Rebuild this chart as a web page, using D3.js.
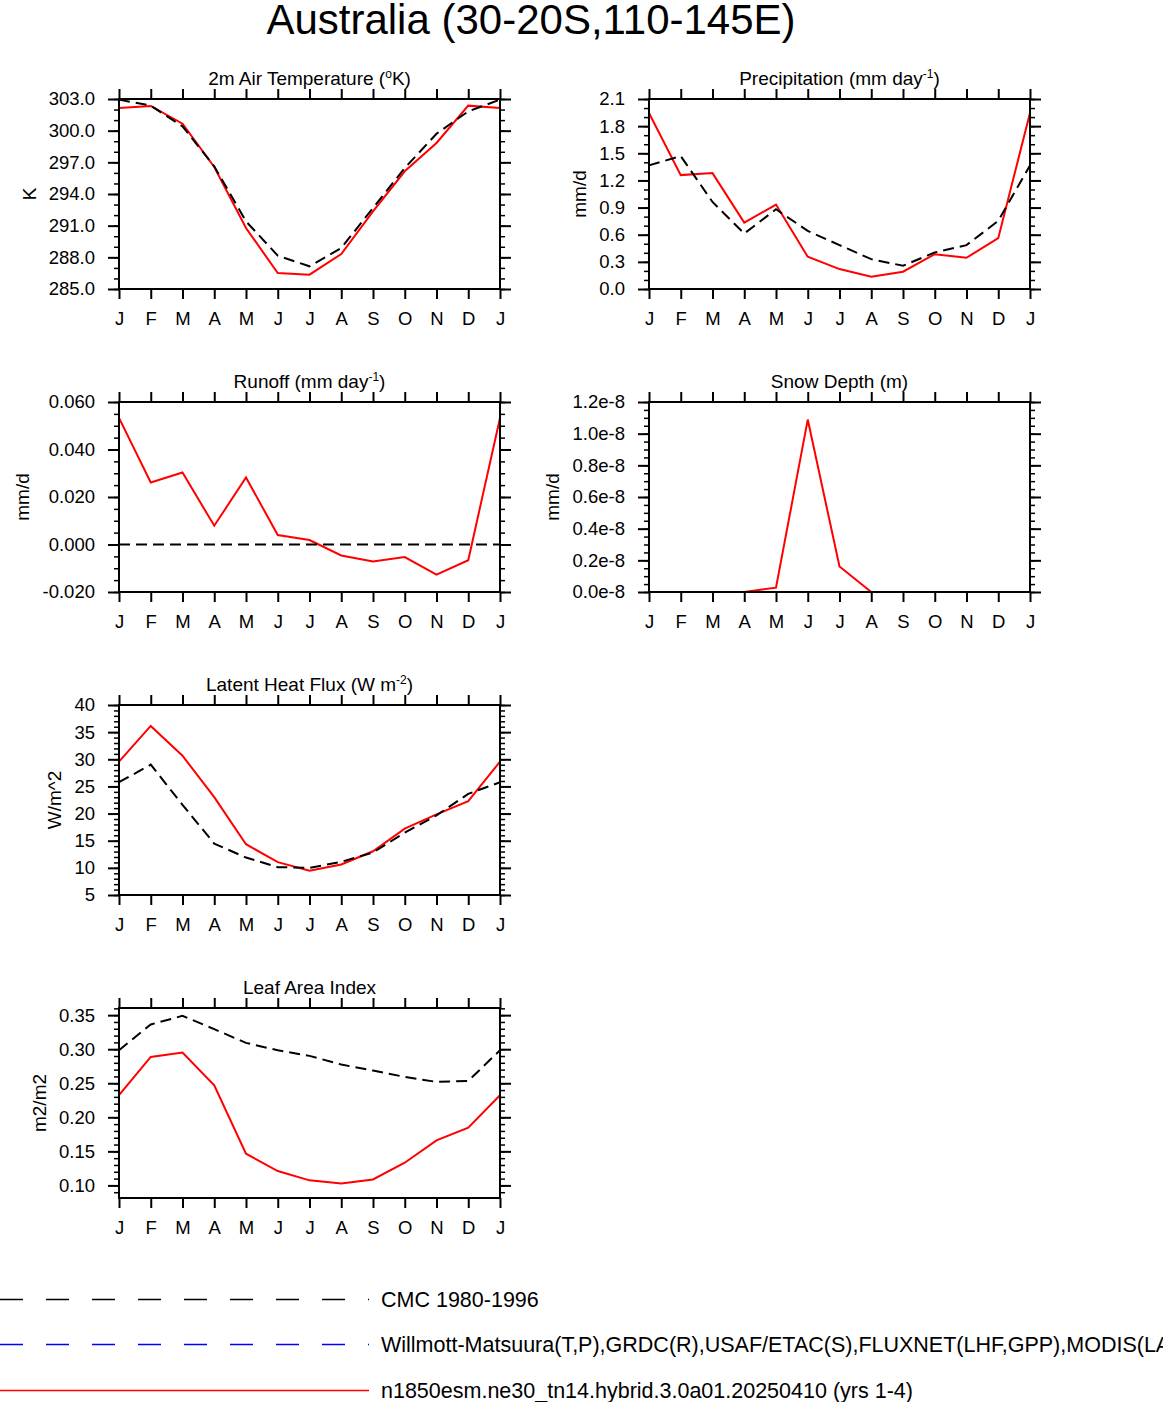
<!DOCTYPE html>
<html>
<head>
<meta charset="utf-8">
<script src="https://cdn.jsdelivr.net/npm/d3@7"></script>
<style>
  body { margin: 0; background: #fff; }
  svg text { font-family: 'Liberation Sans', Arial, Helvetica, sans-serif; fill: #000; }
</style>
</head>
<body>
<div id="chart"></div>
<script>
(function(d3) {

  'use strict';

  // month labels, Jan..Dec plus Jan again to close the cycle
  var months = ['J', 'F', 'M', 'A', 'M', 'J', 'J', 'A', 'S', 'O', 'N', 'D', 'J'];

  var tempModel = [302.15, 302.34, 300.66, 296.56, 290.78, 286.51, 286.36, 288.31, 292.36, 296.15, 298.83, 302.37, 302.15];
  var tempObs = [302.94, 302.37, 300.41, 296.62, 291.41, 288.16, 287.15, 288.89, 292.67, 296.46, 299.71, 301.83, 302.94];

  var precipModel = [1.946, 1.259, 1.281, 0.734, 0.933, 0.356, 0.220, 0.136, 0.191, 0.385, 0.345, 0.562, 1.946];
  var precipObs = [1.366, 1.469, 0.962, 0.613, 0.881, 0.642, 0.485, 0.330, 0.257, 0.404, 0.485, 0.753, 1.366];

  var runoffModel = [0.0533, 0.0261, 0.0303, 0.0079, 0.0282, 0.0040, 0.0019, -0.0046, -0.0072, -0.0053, -0.0127, -0.0066, 0.0533];
  var runoffObs = [0, 0, 0, 0, 0, 0, 0, 0, 0, 0, 0, 0, 0];

  var snowModel = [0, 0, 0, 0, 0.027e-8, 1.089e-8, 0.161e-8, 0, 0, 0, 0, 0, 0];
  var snowObs = [0, 0, 0, 0, 0, 0, 0, 0, 0, 0, 0, 0, 0];

  var lhfModel = [29.56, 36.15, 30.65, 23.02, 14.35, 11.05, 9.46, 10.62, 13.06, 17.22, 19.84, 22.29, 29.56];
  var lhfObs = [25.77, 29.01, 21.61, 14.47, 11.90, 10.13, 10.0, 11.11, 12.82, 16.48, 19.66, 23.63, 25.77];

  var laiModel = [0.2324, 0.2887, 0.2951, 0.2471, 0.1466, 0.1211, 0.1074, 0.1029, 0.1088, 0.1333, 0.1662, 0.1848, 0.2324];
  var laiObs = [0.2985, 0.3363, 0.3490, 0.3294, 0.3093, 0.2985, 0.2902, 0.2775, 0.2686, 0.2593, 0.2520, 0.2534, 0.2985];

  var legendLabels = [
    'CMC 1980-1996',
    'Willmott-Matsuura(T,P),GRDC(R),USAF/ETAC(S),FLUXNET(LHF,GPP),MODIS(LAI)',
    'n1850esm.ne30_tn14.hybrid.3.0a01.20250410 (yrs 1-4)'
  ];

  var FONT = '\'Liberation Sans\', Arial, Helvetica, sans-serif';
  var PLOT_W = 381;
  var PLOT_H = 190;
  var COL_X = [119, 649];
  var ROW_Y = [99, 402, 705, 1008];

  function fixed(n) {
    return function(v) { return v.toFixed(n); };
  }

  var panels = [
    { row: 0, col: 0, title: ['2m Air Temperature (', 'o', 'K)'], ylabel: 'K',
      domain: [285, 303], step: 3, minor: 1, fmt: fixed(1), model: tempModel, obs: tempObs },
    { row: 0, col: 1, title: ['Precipitation (mm day', '-1', ')'], ylabel: 'mm/d',
      domain: [0, 2.1], step: 0.3, minor: 0.1, fmt: fixed(1), model: precipModel, obs: precipObs },
    { row: 1, col: 0, title: ['Runoff (mm day', '-1', ')'], ylabel: 'mm/d',
      domain: [-0.02, 0.06], step: 0.02, minor: 0.005, fmt: fixed(3), model: runoffModel, obs: runoffObs },
    { row: 1, col: 1, title: ['Snow Depth (m)'], ylabel: 'mm/d',
      domain: [0, 1.2e-8], step: 0.2e-8, minor: 0.05e-8,
      fmt: function(v) { return (v / 1e-8).toFixed(1) + 'e-8'; }, model: snowModel, obs: snowObs },
    { row: 2, col: 0, title: ['Latent Heat Flux (W m', '-2', ')'], ylabel: 'W/m^2',
      domain: [5, 40], step: 5, minor: 1, fmt: fixed(0), model: lhfModel, obs: lhfObs },
    { row: 3, col: 0, title: ['Leaf Area Index'], ylabel: 'm2/m2',
      domain: [0.0815, 0.3605], step: 0.05, minor: 0.01, majorStart: 0.10, fmt: fixed(2), model: laiModel, obs: laiObs }
  ];

  var svg = d3.select('#chart')
    .append('svg')
    .attr('width', 1163)
    .attr('height', 1402);

  svg.append('text')
    .attr('x', 531)
    .attr('y', 34)
    .attr('text-anchor', 'middle')
    .style('font-size', '42px')
    .text('Australia (30-20S,110-145E)');

  // ticks on a fixed step between lo and hi, rounded to kill float noise
  function stepTicks(lo, hi, step) {
    var first = Math.ceil(lo / step - 1e-6);
    var last = Math.floor(hi / step + 1e-6);
    return d3.range(first, last + 1).map(function(k) {
      return +(k * step).toPrecision(10);
    });
  }

  function styleAxis(sel, width) {
    sel.attr('font-family', FONT).attr('font-size', 18.5);
    sel.select('.domain').remove();
    sel.selectAll('line').attr('stroke', '#000').attr('stroke-width', width);
    sel.selectAll('text').attr('fill', '#000');
  }

  function drawPanel(p) {
    var g = svg.append('g')
      .attr('transform', 'translate(' + COL_X[p.col] + ',' + ROW_Y[p.row] + ')');

    var x = d3.scaleLinear().domain([0, 12]).range([0, PLOT_W]);
    var y = d3.scaleLinear().domain(p.domain).range([PLOT_H, 0]);

    var majors = stepTicks(p.majorStart || p.domain[0], p.domain[1], p.step);
    var minors = stepTicks(p.domain[0], p.domain[1], p.minor);

    // minor ticks, both sides
    g.append('g')
      .call(d3.axisLeft(y).tickValues(minors).tickSize(5).tickFormat(''))
      .call(styleAxis, 1.5);
    g.append('g')
      .attr('transform', 'translate(' + PLOT_W + ',0)')
      .call(d3.axisRight(y).tickValues(minors).tickSize(5).tickFormat(''))
      .call(styleAxis, 1.5);

    // major ticks
    var left = g.append('g')
      .call(d3.axisLeft(y).tickValues(majors).tickSize(11).tickPadding(13).tickFormat(p.fmt))
      .call(styleAxis, 2);
    g.append('g')
      .attr('transform', 'translate(' + PLOT_W + ',0)')
      .call(d3.axisRight(y).tickValues(majors).tickSize(11).tickFormat(''))
      .call(styleAxis, 2);

    g.append('g')
      .attr('transform', 'translate(0,' + PLOT_H + ')')
      .call(d3.axisBottom(x).tickValues(d3.range(13)).tickSize(10).tickPadding(13)
        .tickFormat(function(i) { return months[i]; }))
      .call(styleAxis, 2);
    g.append('g')
      .call(d3.axisTop(x).tickValues(d3.range(13)).tickSize(10).tickFormat(''))
      .call(styleAxis, 2);

    var line = d3.line()
      .x(function(d, i) { return x(i); })
      .y(function(d) { return y(d); });

    g.append('path')
      .datum(p.model)
      .attr('d', line)
      .attr('fill', 'none')
      .attr('stroke', '#ff0000')
      .attr('stroke-width', 2);

    g.append('path')
      .datum(p.obs)
      .attr('d', line)
      .attr('fill', 'none')
      .attr('stroke', '#000')
      .attr('stroke-width', 2)
      .attr('stroke-dasharray', '11,6');

    // frame
    g.append('rect')
      .attr('width', PLOT_W)
      .attr('height', PLOT_H)
      .attr('fill', 'none')
      .attr('stroke', '#000')
      .attr('stroke-width', 2);

    // title with optional superscript
    var t = g.append('text')
      .attr('x', PLOT_W / 2)
      .attr('y', -14)
      .attr('text-anchor', 'middle')
      .style('font-size', '19px');
    t.append('tspan').text(p.title[0]);
    if (p.title.length > 1) {
      t.append('tspan').attr('dy', -7).style('font-size', '12px').text(p.title[1]);
      t.append('tspan').attr('dy', 7).text(p.title[2]);
    }

    // y label sits left of the tick labels
    var box = left.node().getBBox();
    var lx = box.x - 20;
    g.append('text')
      .attr('transform', 'translate(' + lx + ',' + (PLOT_H / 2) + ') rotate(-90)')
      .attr('text-anchor', 'middle')
      .attr('dy', '0.36em')
      .style('font-size', '19px')
      .text(p.ylabel);
  }

  panels.forEach(drawPanel);

  // legend
  var legend = [
    { color: '#000', dash: '23,23', y: 1299.5 },
    { color: '#0000ff', dash: '23,23', y: 1344.5 },
    { color: '#ff0000', dash: null, y: 1390.5 }
  ];

  legend.forEach(function(item, i) {
    svg.append('line')
      .attr('x1', 0)
      .attr('x2', 369)
      .attr('y1', item.y)
      .attr('y2', item.y)
      .attr('stroke', item.color)
      .attr('stroke-width', 1.5)
      .attr('stroke-dasharray', item.dash);
    svg.append('text')
      .attr('x', 381)
      .attr('y', item.y)
      .attr('dy', '0.36em')
      .style('font-size', '21.5px')
      .text(legendLabels[i]);
  });

}(window.d3));
</script>
</body>
</html>
